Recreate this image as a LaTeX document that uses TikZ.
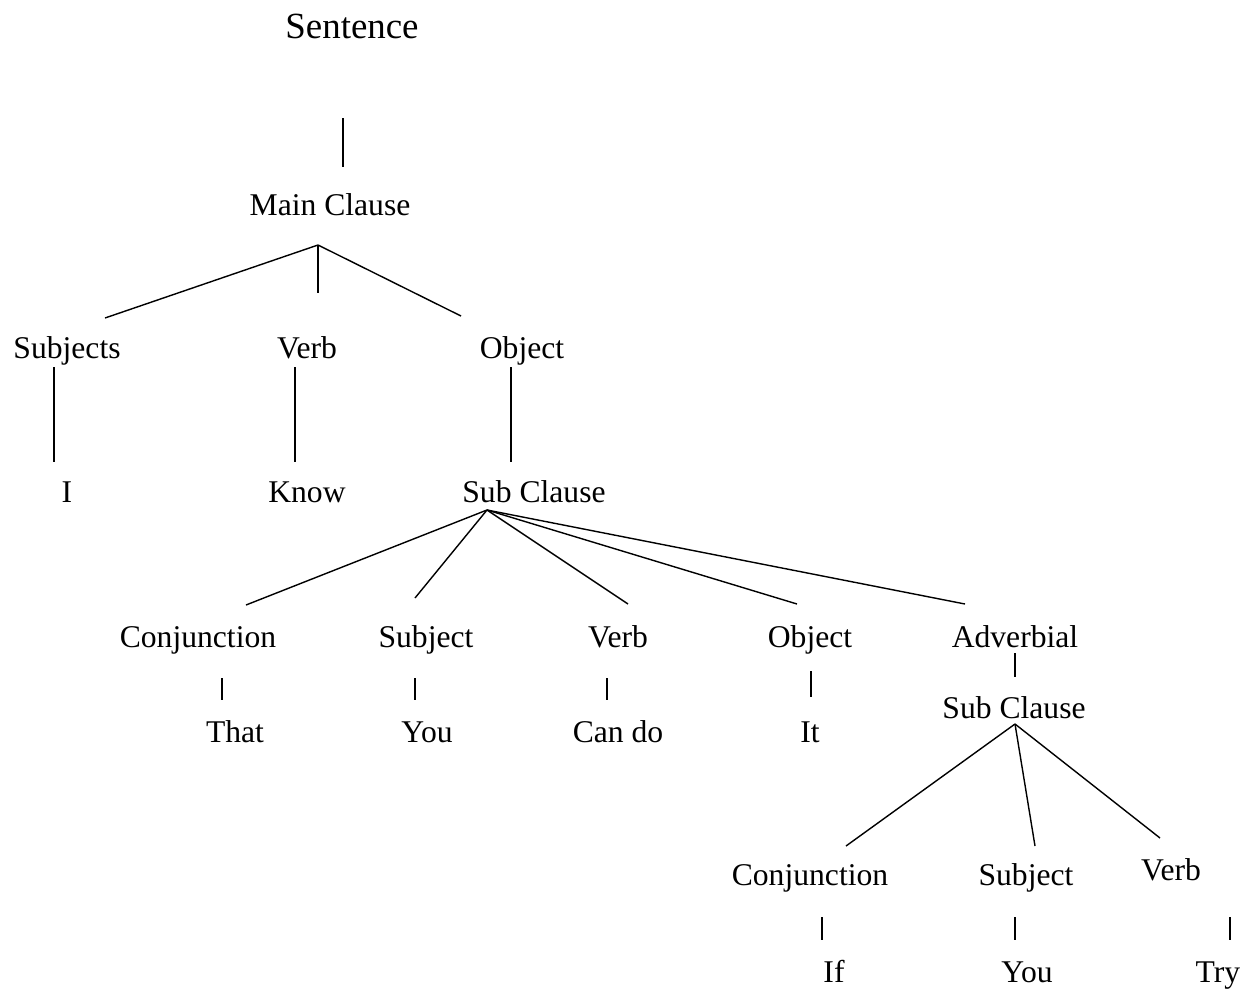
\documentclass[tikz,border=0pt]{standalone}
\usepackage{fontspec}
\setmainfont{Liberation Serif}
\begin{document}
\begin{tikzpicture}[x=0.02cm,y=-0.02cm,
    word/.style={anchor=base,inner sep=0pt,font=\fontsize{18}{22}\selectfont},
    branch/.style={line width=0.8pt}]
                \useasboundingbox (0,0) rectangle (1257,988);
                
                % Words of the tree
                \node [word,font=\fontsize{21}{25}\selectfont] (sent) at (352,38) {Sentence};
                \node [word] (main) at (330,215) {Main Clause};
                \node [word] (subjs) at (67,358) {Subjects};
                \node [word] (verb) at (307,358) {Verb};
                \node [word] (obj) at (522,358) {Object};
                \node [word] (i) at (67,502) {I};
                \node [word] (know) at (307,502) {Know};
                \node [word] (sub) at (534,502) {Sub Clause};
                \node [word] (conj) at (198,647) {Conjunction};
                \node [word] (subj) at (426,647) {Subject};
                \node [word] (sverb) at (618,647) {Verb};
                \node [word] (sobj) at (810,647) {Object};
                \node [word] (adv) at (1015,647) {Adverbial};
                \node [word] (that) at (235,742) {That};
                \node [word] (you) at (427,742) {You};
                \node [word] (cando) at (618,742) {Can do};
                \node [word] (it) at (810,742) {It};
                \node [word] (subb) at (1014,718) {Sub Clause};
                \node [word] (iconj) at (810,885) {Conjunction};
                \node [word] (isubj) at (1026,885) {Subject};
                \node [word] (iverb) at (1171,880) {Verb};
                \node [word] (if) at (834,982) {If};
                \node [word] (iyou) at (1027,982) {You};
                \node [word] (try) at (1218,982) {Try};
                
                % Ends of the branches
                \coordinate (sent-end) at (343,118);
                \coordinate (main-top) at (343,167);
                \coordinate (main-fork) at (318,245);
                \coordinate (subjs-top) at (105,318);
                \coordinate (verb-top) at (318,293);
                \coordinate (obj-top) at (461,316);
                \coordinate (subjs-end) at (54,367);
                \coordinate (i-top) at (54,462);
                \coordinate (verb-end) at (295,367);
                \coordinate (know-top) at (295,462);
                \coordinate (obj-end) at (511,367);
                \coordinate (sub-top) at (511,462);
                \coordinate (sub-fork) at (487,510);
                \coordinate (conj-top) at (246,605);
                \coordinate (subj-top) at (415,598);
                \coordinate (sverb-top) at (628,604);
                \coordinate (sobj-top) at (797,604);
                \coordinate (adv-top) at (965,604);
                \coordinate (conj-end) at (222,678);
                \coordinate (that-top) at (222,700);
                \coordinate (subj-end) at (415,678);
                \coordinate (you-top) at (415,700);
                \coordinate (sverb-end) at (607,678);
                \coordinate (cando-top) at (607,700);
                \coordinate (sobj-end) at (811,671);
                \coordinate (it-top) at (811,697);
                \coordinate (adv-end) at (1015,653);
                \coordinate (subb-top) at (1015,677);
                \coordinate (subb-fork) at (1015,724);
                \coordinate (iconj-top) at (846,846);
                \coordinate (isubj-top) at (1035,846);
                \coordinate (iverb-top) at (1160,838);
                \coordinate (iconj-end) at (822,917);
                \coordinate (if-top) at (822,940);
                \coordinate (isubj-end) at (1015,917);
                \coordinate (iyou-top) at (1015,940);
                \coordinate (iverb-end) at (1230,917);
                \coordinate (try-top) at (1230,940);
                
                % Drawing the main clause
                \draw [branch] (sent-end) -- (main-top);%
                \draw [branch] (main-fork) -- (subjs-top);%
                \draw [branch] (main-fork) -- (verb-top);%
                \draw [branch] (main-fork) -- (obj-top);%
                \draw [branch] (subjs-end) -- (i-top);%
                \draw [branch] (verb-end) -- (know-top);%
                \draw [branch] (obj-end) -- (sub-top);%
                
                % Drawing the sub clause
                \foreach \kid in {conj,subj,sverb,sobj,adv}
                    \draw [branch] (sub-fork) -- (\kid-top);%
                \draw [branch] (conj-end) -- (that-top);%
                \draw [branch] (subj-end) -- (you-top);%
                \draw [branch] (sverb-end) -- (cando-top);%
                \draw [branch] (sobj-end) -- (it-top);%
                \draw [branch] (adv-end) -- (subb-top);%
                
                % Drawing the inner sub clause
                \foreach \kid in {iconj,isubj,iverb}
                    \draw [branch] (subb-fork) -- (\kid-top);%
                \draw [branch] (iconj-end) -- (if-top);%
                \draw [branch] (isubj-end) -- (iyou-top);%
                \draw [branch] (iverb-end) -- (try-top);%
\end{tikzpicture}
\end{document}
